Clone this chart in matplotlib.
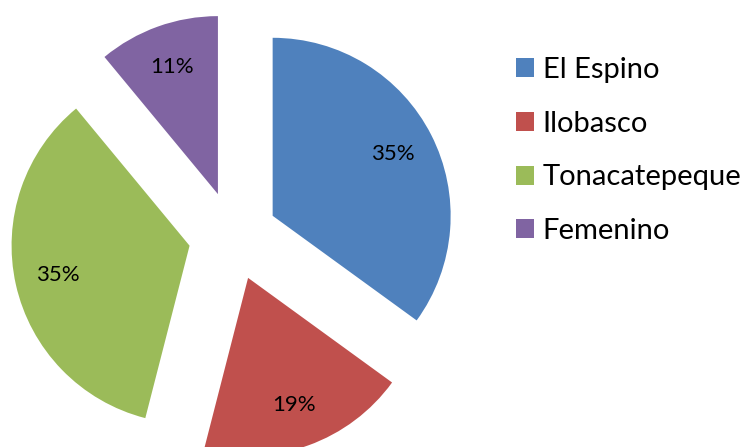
import matplotlib
matplotlib.use('Agg')
import matplotlib.pyplot as plt

labels = ['El Espino', 'Ilobasco', 'Tonacatepeque', 'Femenino']
shares = [35, 19, 35, 11]
colors = ['#4F81BD', '#C0504D', '#9BBB59', '#8064A2']

plt.rcParams['font.family'] = ['Lato', 'DejaVu Sans']

W, H = 749, 447
fig = plt.figure(figsize=(W / 100, H / 100), dpi=100)
ax = fig.add_axes([0, 0, 1, 1])

# pie centre and radius in pixels
cx, cy, r = 233, 236, 178

wedges, texts, autotexts = ax.pie(
    shares, colors=colors, startangle=90, counterclock=False,
    explode=[0.25] * 4, autopct='%1.0f%%', pctdistance=0.76,
    textprops={'fontsize': 16, 'color': 'black'},
    wedgeprops={'linewidth': 0},
)

ax.set_xlim(-cx / r, (W - cx) / r)
ax.set_ylim(-(H - cy) / r, cy / r)
ax.set_aspect('auto')
ax.axis('off')

ax.legend(wedges, labels, loc='upper left', bbox_to_anchor=(516 / W, 1 - 57 / H),
          frameon=False, fontsize=21, handlelength=0.62, handleheight=0.62,
          handletextpad=0.3, labelspacing=0.95, borderaxespad=0, borderpad=0)

fig.savefig('out.png', dpi=100)
